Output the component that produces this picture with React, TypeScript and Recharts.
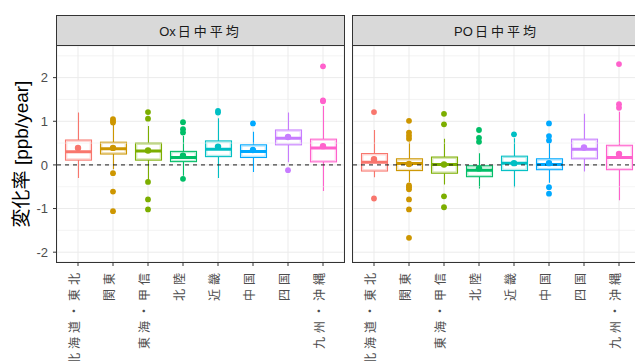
import React from 'react';
import {
  ComposedChart,
  Bar,
  Scatter,
  XAxis,
  YAxis,
  CartesianGrid,
  ReferenceLine,
} from 'recharts';

// Regions and their ggplot-style hue colours
const regions = ['北海道・東北', '関東', '東海・甲信', '北陸', '近畿', '中国', '四国', '九州・沖縄'];
const regionColors = ['#F8766D', '#CD9600', '#7CAE00', '#00BE67', '#00BFC4', '#00A9FF', '#C77CFF', '#FF61CC'];

// Ox daytime mean: box statistics per region [ppb/year]
const oxLow = [-0.3, -0.1, -0.36, -0.25, -0.3, -0.16, 0.06, -0.6];
const oxQ1 = [0.11, 0.25, 0.11, 0.075, 0.19, 0.17, 0.46, 0.07];
const oxMedian = [0.3, 0.37, 0.32, 0.17, 0.36, 0.31, 0.61, 0.39];
const oxQ3 = [0.57, 0.52, 0.5, 0.31, 0.55, 0.46, 0.8, 0.59];
const oxHigh = [1.2, 0.93, 0.89, 0.66, 1.07, 0.76, 1.2, 1.35];
const oxMean = [0.39, 0.39, 0.33, 0.21, 0.42, 0.34, 0.64, 0.43];
const oxOutliers = [
  [],
  [1.05, 1.01, 0.97, -0.19, -0.61, -1.06],
  [1.21, 1.06, -0.39, -0.79, -1.02],
  [0.98, 0.82, 0.74, -0.32],
  [1.24, 1.2],
  [0.95],
  [-0.12],
  [2.26, 1.48, 1.46],
];

// PO daytime mean: box statistics per region [ppb/year]
const poLow = [-0.28, -0.4, -0.45, -0.54, -0.51, -0.41, -0.15, -0.81];
const poQ1 = [-0.14, -0.13, -0.19, -0.27, -0.13, -0.11, 0.14, -0.11];
const poMedian = [0.06, 0.03, 0.01, -0.12, 0.04, 0.01, 0.36, 0.17];
const poQ3 = [0.26, 0.14, 0.18, -0.02, 0.2, 0.14, 0.59, 0.45];
const poHigh = [0.8, 0.52, 0.6, 0.27, 0.61, 0.5, 1.17, 1.22];
const poMean = [0.13, 0.02, 0.01, -0.08, 0.04, 0.04, 0.4, 0.25];
const poOutliers = [
  [1.21, -0.77],
  [1.01, 0.74, 0.67, 0.6, -0.47, -0.51, -0.56, -0.79, -1.02, -1.67],
  [1.17, 0.93, -0.72, -0.97],
  [0.8, 0.62, 0.53],
  [0.7],
  [0.95, 0.66, 0.56, -0.51, -0.66],
  [],
  [2.31, 1.39, 1.31],
];

const yTicks = [-2, -1, 0, 1, 2];
const yMinor = [-1.5, -0.5, 0.5, 1.5, 2.5];
const yDomain: [number, number] = [-2.225, 2.725];

const FONT = '"Liberation Sans", "Noto Sans CJK JP", sans-serif';

function buildRows(low: number[], q1: number[], med: number[], q3: number[], high: number[], mean: number[]) {
  return regions.map((region, i) => ({
    region,
    range: [low[i], high[i]],
    q1: q1[i],
    median: med[i],
    q3: q3[i],
    mean: mean[i],
    color: regionColors[i],
  }));
}

function buildOutliers(out: number[][]) {
  return out.flatMap((vals, i) =>
    vals.map((value) => ({ region: regions[i], value, color: regionColors[i] }))
  );
}

// Whiskers, box and median drawn inside the range bar [low, high]
function BoxShape(props: any) {
  const { x, y, width, height } = props;
  const p = props.payload ?? props;
  const [lo, hi] = p.range;
  const toY = (v: number) => y + (height * (hi - v)) / (hi - lo);
  const c = p.color;
  const cx = x + width / 2;
  const top = toY(p.q3);
  const bot = toY(p.q1);
  const med = toY(p.median);
  return (
    <g>
      <line x1={cx} x2={cx} y1={y} y2={top} stroke={c} strokeWidth={1.1} />
      <line x1={cx} x2={cx} y1={bot} y2={y + height} stroke={c} strokeWidth={1.1} />
      <rect x={x} y={top} width={width} height={bot - top} fill="#fff" stroke={c} strokeWidth={1.1} />
      <rect
        x={x + 1.3}
        y={top + 1.3}
        width={width - 2.6}
        height={Math.max(bot - top - 2.6, 0)}
        fill="none"
        stroke={c}
        strokeOpacity={0.35}
        strokeWidth={1}
      />
      <line x1={x} x2={x + width} y1={med} y2={med} stroke={c} strokeWidth={3} />
    </g>
  );
}

const MeanDot = (props: any) => (
  <circle cx={props.cx} cy={props.cy} r={3.2} fill={props.payload.color} />
);
const OutlierDot = (props: any) => (
  <circle cx={props.cx} cy={props.cy} r={2.9} fill={props.payload.color} />
);

function RotTick(props: any) {
  const { x, y, payload } = props;
  const ax = x - 3;
  return (
    <text
      x={ax}
      y={y}
      transform={`rotate(-90, ${ax}, ${y})`}
      textAnchor="end"
      dominantBaseline="central"
      fontSize={12}
      letterSpacing={4}
      fill="#4D4D4D"
      fontFamily={FONT}
    >
      {payload.value}
    </text>
  );
}

function YTitle(props: any) {
  const vb = props.viewBox;
  const cx = vb.x + 21;
  const cy = vb.y + vb.height / 2;
  return (
    <text
      x={cx}
      y={cy}
      transform={`rotate(-90, ${cx}, ${cy})`}
      textAnchor="middle"
      dominantBaseline="central"
      fontSize={19}
      fill="#000"
      fontFamily={FONT}
    >
      変化率 [ppb/year]
    </text>
  );
}

function Panel({
  rows,
  outliers,
  showY,
  width,
  marginRight,
}: {
  rows: any[];
  outliers: any[];
  showY: boolean;
  width: number;
  marginRight: number;
}) {
  return (
    <ComposedChart
      width={width}
      height={361}
      data={rows}
      margin={{ top: 46, right: marginRight, bottom: 0, left: 0 }}
      style={{ fontFamily: FONT }}
    >
      <CartesianGrid stroke="#EBEBEB" strokeWidth={1} />
      {yMinor.map((v) => (
        <ReferenceLine key={v} y={v} stroke="#EDEDED" strokeWidth={0.6} ifOverflow="hidden" />
      ))}
      <XAxis
        dataKey="region"
        type="category"
        allowDuplicatedCategory={false}
        padding={{ left: 3.5, right: 3.5 }}
        height={99}
        interval={0}
        tickSize={4}
        tickMargin={3}
        axisLine={false}
        tickLine={{ stroke: '#333333' }}
        tick={<RotTick />}
      />
      <YAxis
        type="number"
        domain={yDomain}
        allowDataOverflow
        ticks={yTicks}
        hide={!showY}
        width={showY ? 57 : 0}
        tickSize={4}
        tickMargin={5}
        axisLine={false}
        tickLine={{ stroke: '#333333' }}
        tick={{ fill: '#4D4D4D', fontSize: 13, fontFamily: FONT }}
        label={showY ? <YTitle /> : undefined}
      />
      <Bar dataKey="range" barSize={26} shape={<BoxShape />} isAnimationActive={false} />
      <ReferenceLine y={0} stroke="#1A1A1A" strokeDasharray="4 4" strokeWidth={1} />
      <Scatter data={rows} dataKey="mean" shape={<MeanDot />} isAnimationActive={false} />
      <Scatter data={outliers} dataKey="value" shape={<OutlierDot />} isAnimationActive={false} />
    </ComposedChart>
  );
}

const stripStyle: React.CSSProperties = {
  position: 'absolute',
  top: 15,
  height: 31,
  width: 289,
  boxSizing: 'border-box',
  background: '#D9D9D9',
  border: '1px solid #333333',
  display: 'flex',
  alignItems: 'center',
  justifyContent: 'center',
  fontFamily: FONT,
  fontSize: 13,
  color: '#1A1A1A',
};

const frameStyle: React.CSSProperties = {
  position: 'absolute',
  top: 45,
  height: 218,
  width: 289,
  boxSizing: 'border-box',
  border: '1px solid #333333',
  pointerEvents: 'none',
};

function StripLabel({ prefix }: { prefix: string }) {
  return (
    <span>
      {prefix}
      <span style={{ letterSpacing: 3, marginLeft: 2 }}>日中平均</span>
    </span>
  );
}

export default function App() {
  const oxRows = buildRows(oxLow, oxQ1, oxMedian, oxQ3, oxHigh, oxMean);
  const poRows = buildRows(poLow, poQ1, poMedian, poQ3, poHigh, poMean);
  const oxOut = buildOutliers(oxOutliers);
  const poOut = buildOutliers(poOutliers);
  return (
    <div
      style={{
        position: 'absolute',
        left: 0,
        top: 0,
        width: 635,
        height: 361,
        overflow: 'hidden',
        background: '#fff',
      }}
    >
      <div style={{ position: 'absolute', left: 0, top: 0 }}>
        <Panel rows={oxRows} outliers={oxOut} showY width={350} marginRight={6} />
      </div>
      <div style={{ position: 'absolute', left: 353, top: 0 }}>
        <Panel rows={poRows} outliers={poOut} showY={false} width={300} marginRight={13} />
      </div>
      <div style={{ ...stripStyle, left: 56 }}>
        <StripLabel prefix="Ox" />
      </div>
      <div style={{ ...stripStyle, left: 352 }}>
        <StripLabel prefix="PO" />
      </div>
      <div style={{ ...frameStyle, left: 56 }} />
      <div style={{ ...frameStyle, left: 352 }} />
    </div>
  );
}
